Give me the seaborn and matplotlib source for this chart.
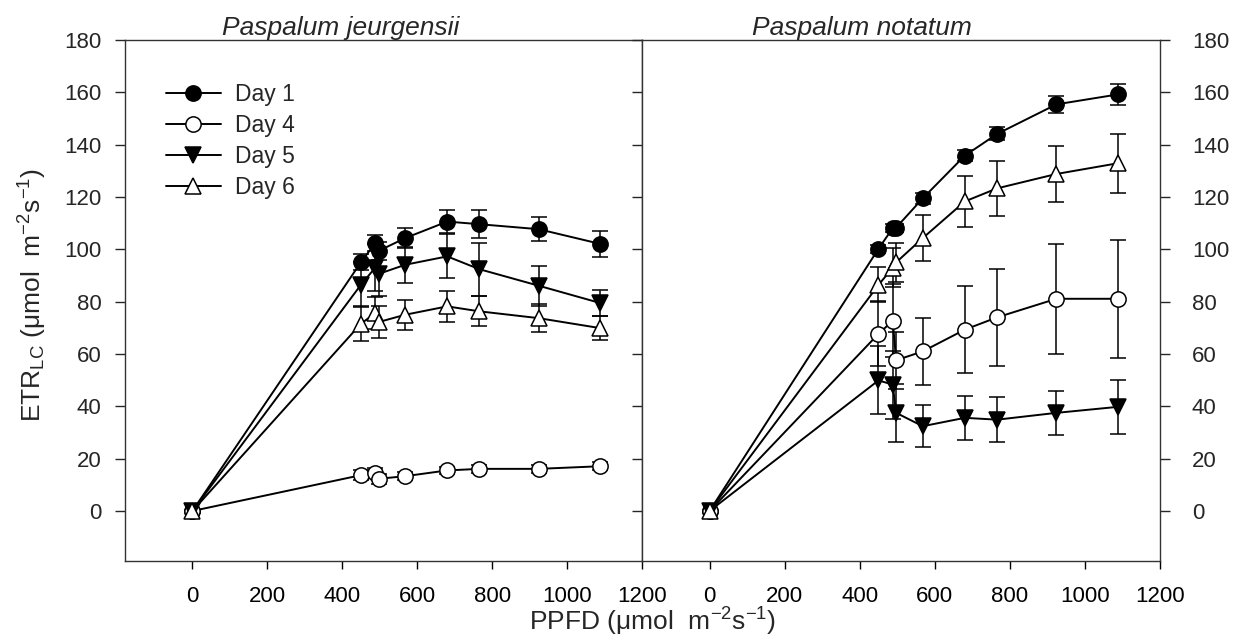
import numpy as np
import matplotlib
matplotlib.use("Agg")
import matplotlib.pyplot as plt
import seaborn as sns

sns.set_theme(style="ticks")
plt.rcParams["font.family"] = ["Liberation Sans", "DejaVu Sans"]
plt.rcParams["mathtext.fontset"] = "custom"
plt.rcParams["mathtext.rm"] = "Liberation Sans"
plt.rcParams["mathtext.it"] = "Liberation Sans:italic"

# PPFD steps of the light curve (µmol m-2 s-1)
ppfd = [0, 450, 488, 497, 568, 680, 766, 924, 1088]

days = ["Day 1", "Day 4", "Day 5", "Day 6"]

# Paspalum jeurgensii: ETR means and standard errors
pj_day1 = [0, 95.1, 102.4, 99.4, 104.3, 110.6, 109.6, 107.7, 102.1]
pj_day4 = [0, 13.7, 14.6, 12.3, 13.3, 15.5, 16.1, 16.1, 17.1]
pj_day5 = [0, 86.5, 93.0, 90.6, 94.1, 97.3, 92.4, 86.1, 79.5]
pj_day6 = [0, 71.6, 75.6, 72.2, 75.0, 78.2, 76.3, 73.7, 69.9]
pj_day1_se = [0, 3.0, 3.0, 3.5, 3.8, 4.4, 5.4, 4.7, 4.9]
pj_day4_se = [0, 2.0, 2.0, 1.8, 1.5, 1.5, 1.5, 1.5, 1.5]
pj_day5_se = [0, 8.5, 9.0, 8.5, 6.8, 8.4, 10.2, 7.6, 5.0]
pj_day6_se = [0, 6.7, 6.0, 6.0, 5.7, 6.0, 5.7, 5.4, 4.7]

# Paspalum notatum: ETR means and standard errors
pn_day1 = [0, 100.2, 108.1, 108.3, 119.5, 135.8, 144.1, 155.4, 159.2]
pn_day4 = [0, 67.7, 72.7, 57.6, 61.0, 69.3, 74.0, 81.1, 81.1]
pn_day5 = [0, 49.9, 48.3, 37.5, 32.4, 35.6, 34.9, 37.5, 39.8]
pn_day6 = [0, 86.4, 93.0, 95.0, 104.3, 118.3, 123.3, 128.8, 132.9]
pn_day1_se = [0, 1.5, 1.5, 1.5, 2.0, 2.0, 2.5, 3.2, 4.1]
pn_day4_se = [0, 12.4, 14.0, 10.8, 12.9, 16.5, 18.6, 21.0, 22.5]
pn_day5_se = [0, 13.0, 13.0, 11.0, 8.0, 8.4, 8.7, 8.4, 10.2]
pn_day6_se = [0, 6.7, 7.5, 7.5, 8.7, 9.9, 10.4, 10.8, 11.3]

species = ["Paspalum jeurgensii", "Paspalum notatum"]

marker_styles = {
    "Day 1": dict(marker="o", mfc="black"),
    "Day 4": dict(marker="o", mfc="white"),
    "Day 5": dict(marker="v", mfc="black"),
    "Day 6": dict(marker="^", mfc="white"),
}

panels = [
    (dict(zip(days, [pj_day1, pj_day4, pj_day5, pj_day6])),
     dict(zip(days, [pj_day1_se, pj_day4_se, pj_day5_se, pj_day6_se]))),
    (dict(zip(days, [pn_day1, pn_day4, pn_day5, pn_day6])),
     dict(zip(days, [pn_day1_se, pn_day4_se, pn_day5_se, pn_day6_se]))),
]

fig = plt.figure(figsize=(12.36, 6.41), dpi=100)
ax_l = fig.add_axes([125 / 1236, 1 - 560.7 / 641, 517 / 1236, 520.7 / 641])
ax_r = fig.add_axes([642 / 1236, 1 - 560.7 / 641, 518 / 1236, 520.7 / 641])

for ax, (means, errs) in zip([ax_l, ax_r], panels):
    for day in days:
        st = marker_styles[day]
        ax.errorbar(ppfd[1:], means[day][1:], yerr=errs[day][1:], fmt="none",
                    ecolor="black", elinewidth=1.1, capsize=6, capthick=1.1,
                    zorder=2)
        sns.lineplot(x=ppfd, y=means[day], ax=ax, sort=False, estimator=None,
                     color="black", linewidth=1.4, marker=st["marker"],
                     markersize=11, markerfacecolor=st["mfc"],
                     markeredgecolor="black", markeredgewidth=1.1,
                     label=day, zorder=3, legend=False)
    ax.set_xlim(-180, 1200)
    ax.set_ylim(-19, 180)
    ax.set_xticks(range(0, 1201, 200))
    ax.set_yticks(range(0, 181, 20))
    ax.set_xlabel("")
    ax.set_ylabel("")
    for sp in ax.spines.values():
        sp.set_visible(True)
        sp.set_linewidth(1.0)
        sp.set_color("#333333")
    ax.tick_params(axis="x", direction="out", length=6, width=1.0,
                   labelsize=16, pad=12, colors="black")

ax_l.tick_params(axis="y", direction="out", length=7, width=1.0,
                 labelsize=16, pad=10, left=True, right=False)
ax_r.tick_params(axis="y", direction="out", length=7, width=1.0,
                 labelsize=16, pad=16, left=True, right=True,
                 labelleft=False, labelright=True)

# Species names above each panel
fig.text(341 / 1236, 1 - 35 / 641, species[0], fontsize=19, style="italic",
         ha="center", va="baseline")
fig.text(862 / 1236, 1 - 35 / 641, species[1], fontsize=19, style="italic",
         ha="center", va="baseline")

fig.text(33 / 1236, 1 - 295 / 641,
         r"ETR$_{\mathrm{LC}}$ (μmol  m$^{\mathrm{-2}}$s$^{\mathrm{-1}}$)",
         fontsize=19, rotation=90, ha="center", va="center")
fig.text(653 / 1236, 1 - 622 / 641,
         r"PPFD (μmol  m$^{\mathrm{-2}}$s$^{\mathrm{-1}}$)",
         fontsize=19, ha="center", va="center")

handles, labels = ax_l.get_legend_handles_labels()
ax_l.legend(handles, labels, loc="upper left", bbox_to_anchor=(0.079, 0.917),
            frameon=False, fontsize=16.5, handlelength=2.4, handletextpad=0.6,
            labelspacing=0.35, borderpad=0, borderaxespad=0)

fig.savefig("out.png", dpi=100)
